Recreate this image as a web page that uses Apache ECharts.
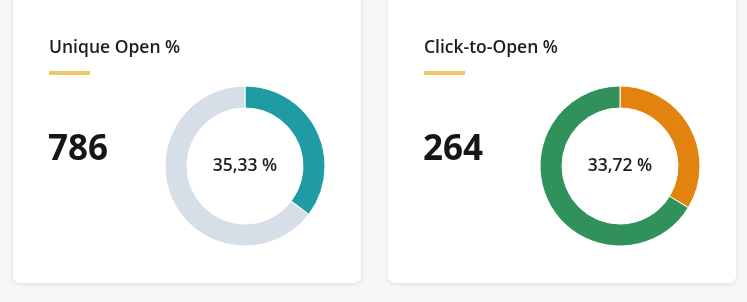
<!DOCTYPE html>
<html><head><meta charset="utf-8">
<script src="https://cdn.jsdelivr.net/npm/echarts@6/dist/echarts.min.js"></script>
<style>html,body{margin:0;padding:0;background:#f8f7f5;}#c{width:747px;height:302px;}</style>
</head><body><div id="c"></div>
<script>
const titles = ["Unique Open %", "Click-to-Open %"];
const bigValues = ["786", "264"];
const percentLabels = ["35,33 %", "33,72 %"];
const percentValues = [35.33, 33.72];
const restValues = [64.67, 66.28];
const mainColors = ["#1f9ba4", "#e2820f"];
const restColors = ["#d6dfe7", "#31915b"];

const chart = echarts.init(document.getElementById('c'), null, {renderer: 'canvas'});
const cardX = [13, 388];
const FONT = '"Open Sans", "Noto Sans", sans-serif';
const graphic = [];
const series = [];
for (let i = 0; i < 2; i++) {
  const x = cardX[i];
  graphic.push({type: 'rect', shape: {x: x, y: -10, width: 348, height: 293, r: 7},
    style: {fill: '#ffffff', shadowBlur: 5, shadowColor: 'rgba(0,0,0,0.10)', shadowOffsetY: 1}, z: 0});
  graphic.push({type: 'text', x: x + 36, y: 48, style: {text: titles[i], font: '600 17.5px ' + FONT, fill: '#1e1e1e', textVerticalAlign: 'middle'}, z: 2});
  graphic.push({type: 'rect', shape: {x: x + 36, y: 71, width: 41, height: 4}, style: {fill: '#edc965'}, z: 2});
  graphic.push({type: 'text', x: x + 35, y: 150, style: {text: bigValues[i], font: 'bold 35px ' + FONT, fill: '#161616', textVerticalAlign: 'middle'}, z: 2});
  series.push({
    type: 'pie', center: [x + 232, 166], radius: [58, 80], startAngle: 90, clockwise: true,
    silent: true, avoidLabelOverlap: false,
    itemStyle: {borderColor: '#ffffff', borderWidth: 1},
    label: {show: true, position: 'center', formatter: () => percentLabels[i], fontSize: 17.5, fontWeight: 600, fontFamily: FONT, color: '#1e1e1e'},
    labelLine: {show: false},
    emphasis: {disabled: true},
    data: [
      {value: percentValues[i], itemStyle: {color: mainColors[i]}},
      {value: restValues[i], itemStyle: {color: restColors[i]}, label: {show: false}}
    ],
    z: 3
  });
}
chart.setOption({animation: false, backgroundColor: '#f8f7f5', graphic: graphic, series: series});
</script></body></html>
